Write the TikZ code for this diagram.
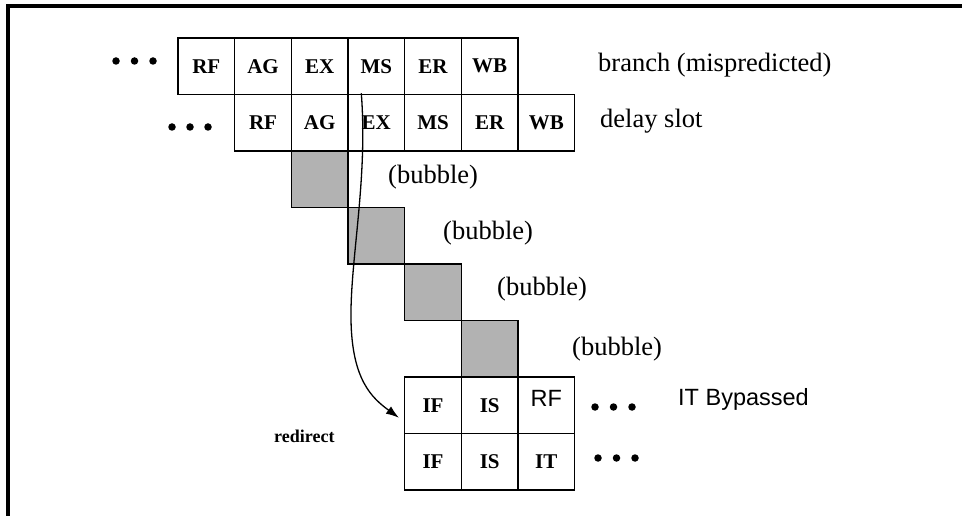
\documentclass[tikz,border=0pt]{standalone}
\usepackage{fontspec}
\setmainfont{Liberation Serif}
\newfontfamily\arialf{Liberation Sans}
\usetikzlibrary{arrows.meta,calc}
\begin{document}
\begin{tikzpicture}[x=1pt,y=-1pt,
  cell/.style={draw,line width=1.5pt,minimum width=56.67pt,minimum height=56.5pt,inner sep=0pt,
    font=\fontsize{21}{25}\selectfont\bfseries},
  bub/.style={cell,fill=black!30},
  lbl/.style={anchor=base west,inner sep=0pt,font=\fontsize{26.5}{30}\selectfont},
  dot/.style={circle,fill=black,inner sep=0pt,minimum size=7.5pt}]
\useasboundingbox (0,0) rectangle (962,516);
% frame
\draw[line width=3.2pt] (8,530) -- (8,6) -- (975,6);
% branch row
\node[cell] (t1) at (206.3,66.25) {RF};
\node[cell] (t2) at (263.0,66.25) {AG};
\node[cell] (t3) at (319.7,66.25) {EX};
\node[cell] (t4) at (376.3,66.25) {MS};
\node[cell] (t5) at (433.0,66.25) {ER};
\node[cell] (t6) at (489.7,66.25) {WB};
% delay slot row
\node[cell] (d1) at (263.0,122.75) {RF};
\node[cell] (d2) at (319.7,122.75) {AG};
\node[cell] (d3) at (376.3,122.75) {EX};
\node[cell] (d4) at (433.0,122.75) {MS};
\node[cell] (d5) at (489.7,122.75) {ER};
\node[cell] (d6) at (546.3,122.75) {WB};
% bubbles
\node[bub] (b1) at (319.7,179.25) {};
\node[bub] (b2) at (376.3,235.75) {};
\node[bub] (b3) at (433.0,292.25) {};
\node[bub] (b4) at (489.7,348.75) {};
% redirected rows
\node[cell] (i1) at (433.0,405.25) {IF};
\node[cell] (i2) at (489.7,405.25) {IS};
\node[cell] (i3) at (546.3,405.25) {};
\node[inner sep=0pt,font=\fontsize{23.5}{28}\selectfont\arialf] (i3t) at ([yshift=6.5pt]i3.center) {RF};
\node[cell] (j1) at (433.0,461.75) {IF};
\node[cell] (j2) at (489.7,461.75) {IS};
\node[cell] (j3) at (546.3,461.75) {IT};
% dots
\node[dot] (p1) at (116,61) {};
\node[dot] (p2) at (134.5,61) {};
\node[dot] (p3) at (153,61) {};
\node[dot] (q1) at (172,127) {};
\node[dot] (q2) at (190,127) {};
\node[dot] (q3) at (208,127) {};
\node[dot] (r1) at (595,407) {};
\node[dot] (r2) at (613.5,407) {};
\node[dot] (r3) at (632,407) {};
\node[dot] (s1) at (598,458) {};
\node[dot] (s2) at (616.5,458) {};
\node[dot] (s3) at (635,458) {};
% labels
\node[lbl] (lb) at (598,72) {branch (mispredicted)};
\node[lbl] (ld) at (600,128) {delay slot};
\node[lbl] (lb1) at (388,184) {(bubble)};
\node[lbl] (lb2) at (443,240) {(bubble)};
\node[lbl] (lb3) at (497,295) {(bubble)};
\node[lbl] (lb4) at (572,355) {(bubble)};
\node[anchor=base west,inner sep=0pt,font=\fontsize{23.5}{28}\selectfont\arialf] (lit) at (678,405) {IT Bypassed};
\node[anchor=base west,inner sep=0pt,font=\fontsize{18}{22}\selectfont\bfseries] (lr) at (274,442) {redirect};
% redirect arrow
\coordinate (rs) at ($(t4.south)+(-15,-2)$);
\coordinate (re) at ($(i1.west)+(-5,12.5)$);
\draw[line width=1.3pt,-{Latex[length=13pt,width=9pt]}] (rs) .. controls (368,180) and (350,260) .. (351,320)
  .. controls (352,380) and (372,398) .. (re);
\end{tikzpicture}
\end{document}
